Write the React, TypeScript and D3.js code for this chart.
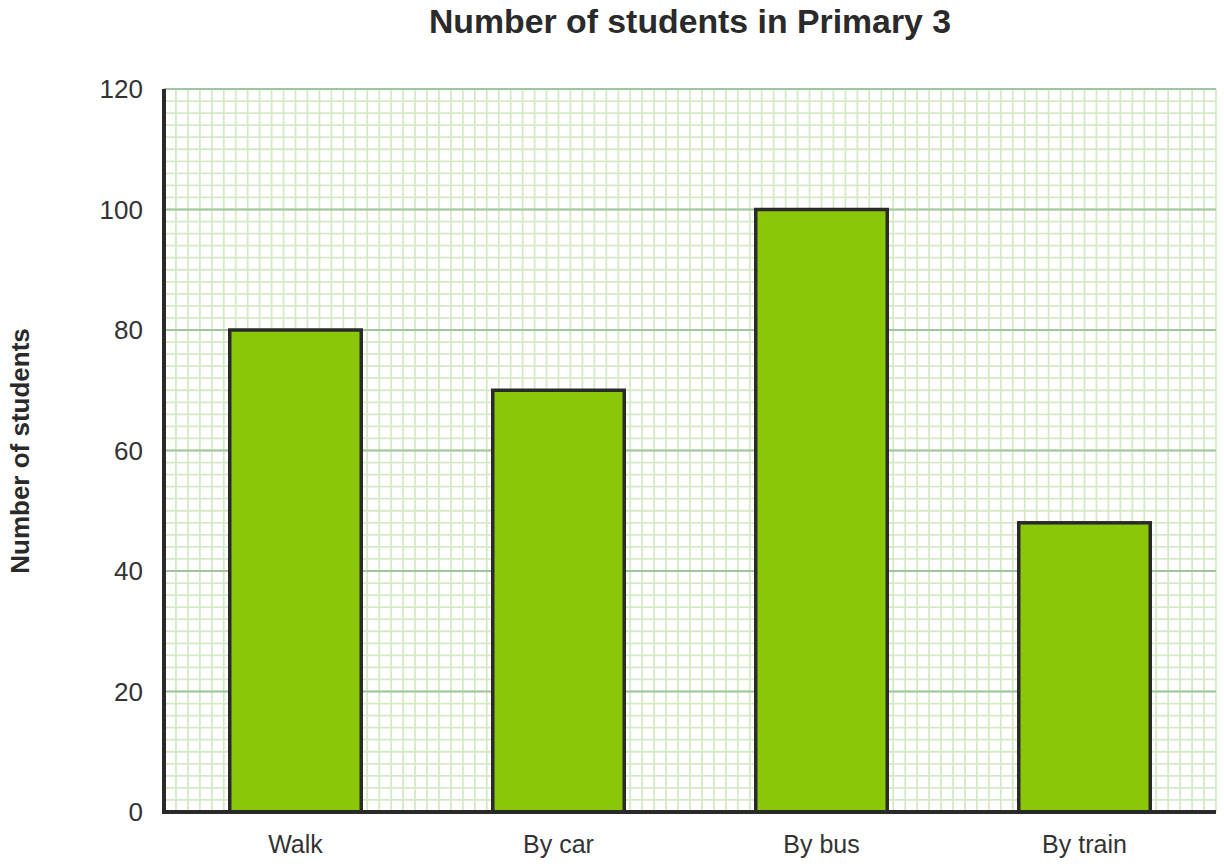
import React from "react";
import * as d3 from "d3";

const categories = ["Walk", "By car", "By bus", "By train"];
const values = [80, 70, 100, 48];
const yTicks = [0, 20, 40, 60, 80, 100, 120];
const title = "Number of students in Primary 3";
const yTitle = "Number of students";

const W = 1224;
const H = 866;
const m = { left: 164, right: 8, top: 89, bottom: 54 };

export default function App() {
  const x = d3
    .scaleBand<string>()
    .domain(categories)
    .range([m.left, W - m.right])
    .paddingInner(0.5)
    .paddingOuter(0.25);
  const y = d3.scaleLinear().domain([0, 120]).range([H - m.bottom, m.top]);

  const minorY = d3.range(0, 121, 2);
  const nMinorX = 88;
  const minorX = d3.range(0, nMinorX + 1).map(
    (i) => m.left + (i * (W - m.right - m.left)) / nMinorX
  );
  const font = "'Liberation Sans', Arial, sans-serif";

  return (
    <svg
      width={W}
      height={H}
      style={{ position: "absolute", left: 0, top: 0, background: "#fff" }}
      fontFamily={font}
    >
      <g>
        {minorX.map((px, i) => (
          <line
            key={"mx" + i}
            x1={px}
            x2={px}
            y1={y(120)}
            y2={y(0)}
            stroke="#d5e9c6"
            strokeWidth={1.8}
          />
        ))}
        {minorY.map((v) => (
          <line
            key={"my" + v}
            x1={m.left}
            x2={W - m.right}
            y1={y(v)}
            y2={y(v)}
            stroke="#d5e9c6"
            strokeWidth={1.8}
          />
        ))}
        {yTicks.map((v) => (
          <line
            key={"gy" + v}
            x1={m.left}
            x2={W - m.right}
            y1={y(v)}
            y2={y(v)}
            stroke="#a0c6a0"
            strokeWidth={2.2}
          />
        ))}
      </g>
      <g>
        {categories.map((c, i) => (
          <rect
            key={c}
            x={x(c)}
            y={y(values[i])}
            width={x.bandwidth()}
            height={y(0) - y(values[i])}
            fill="#8ac709"
            stroke="#2a2a2a"
            strokeWidth={3.5}
          />
        ))}
      </g>
      <line x1={m.left} x2={m.left} y1={y(120)} y2={y(0) + 2} stroke="#2a2a2a" strokeWidth={4} />
      <line x1={m.left - 2} x2={W - m.right} y1={y(0)} y2={y(0)} stroke="#2a2a2a" strokeWidth={4} />
      {yTicks.map((v) => (
        <text
          key={"t" + v}
          x={143}
          y={y(v)}
          dy="0.36em"
          textAnchor="end"
          fontSize={26}
          fill="#333"
        >
          {v}
        </text>
      ))}
      {categories.map((c) => (
        <text
          key={"xl" + c}
          x={(x(c) as number) + x.bandwidth() / 2}
          y={853}
          textAnchor="middle"
          fontSize={25}
          fill="#333"
        >
          {c}
        </text>
      ))}
      <text
        x={690}
        y={33}
        textAnchor="middle"
        fontSize={33.8}
        fontWeight="bold"
        fill="#2a2a2a"
      >
        {title}
      </text>
      <text
        transform={`translate(29, 451) rotate(-90)`}
        textAnchor="middle"
        fontSize={26}
        fontWeight="bold"
        fill="#2a2a2a"
      >
        {yTitle}
      </text>
    </svg>
  );
}
